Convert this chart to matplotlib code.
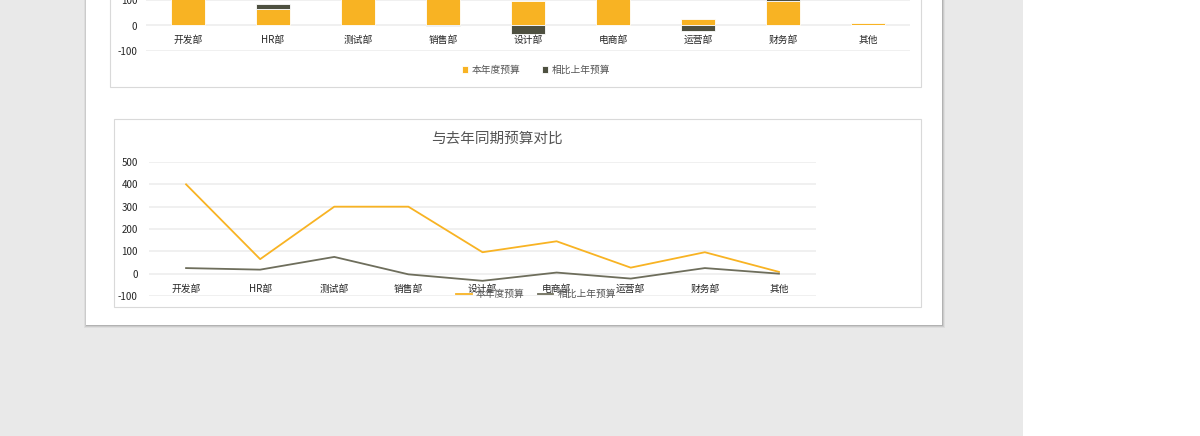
import matplotlib
matplotlib.use('Agg')
import matplotlib.pyplot as plt
from matplotlib.patches import Rectangle
import numpy as np

plt.rcParams['font.family'] = ['Noto Sans CJK SC', 'DejaVu Sans']
plt.rcParams['axes.unicode_minus'] = False

# data
depts = ['开发部', 'HR部', '测试部', '销售部', '设计部', '电商部', '运营部', '财务部', '其他']
budget_this_year = [400, 65, 300, 300, 96, 145, 27, 96, 8]
diff_last_year = [25, 18, 75, -3, -32, 5, -22, 25, 0]
series_names = ['本年度预算', '相比上年预算']
line_title = '与去年同期预算对比'

orange = '#F8B323'
darkgray = '#4E5040'
linegray = '#6E6E5C'
gridc = '#EDEDED'
textc = '#262626'

W, H = 1200, 436
fig = plt.figure(figsize=(W / 100, H / 100), dpi=100)
fig.patch.set_facecolor('#E9E9E9')

def box(x0, y0, x1, y1):
    # pixel box (top-left origin) -> figure fraction
    return [x0 / W, 1 - y1 / H, (x1 - x0) / W, (y1 - y0) / H]

def rect(x0, y0, x1, y1, **kw):
    b = box(x0, y0, x1, y1)
    fig.patches.append(Rectangle((b[0], b[1]), b[2], b[3], transform=fig.transFigure, **kw))

# sheet background
rect(1023, 0, 1200, 436, facecolor='white', edgecolor='none', zorder=-5)
for i, a in enumerate([0.05, 0.08, 0.12]):
    d = 3 - i
    rect(86 - d + 1, -5, 942 + d, 325 + d, facecolor='black', edgecolor='none', alpha=a, zorder=-5)
rect(86, -5, 942, 325, facecolor='white', edgecolor='none', zorder=-4)
rect(110, -5, 921, 87, facecolor='white', edgecolor='#D9D9D9', linewidth=0.8, zorder=-3)
rect(114, 119, 921, 307, facecolor='white', edgecolor='#D9D9D9', linewidth=0.8, zorder=-3)

x = np.arange(len(depts))

# top: stacked column chart (cut off at the top)
ax1 = fig.add_axes(box(145.5, 25.5 - 500 * 0.255, 910.5, 51))
ax1.set_facecolor('none')
ax1.set_ylim(-100, 500)
ax1.set_xlim(-0.5, len(depts) - 0.5)
pos_base = np.array(budget_this_year, dtype=float)
d = np.array(diff_last_year, dtype=float)
b1 = ax1.bar(x, budget_this_year, width=0.4, color=orange, edgecolor='white', linewidth=0.6, zorder=3)
b2 = ax1.bar(x, d, width=0.4, bottom=np.where(d > 0, pos_base, 0), color=darkgray,
             edgecolor='white', linewidth=0.6, zorder=3)
ax1.set_yticks([-100, 0, 100, 200, 300, 400, 500])
ax1.grid(axis='y', color=gridc, linewidth=1.2, zorder=0)
ax1.set_xticks([])
for i, name in enumerate(depts):
    ax1.text(i, -58, name, ha='center', va='center', fontsize=7, color=textc)
for s in ax1.spines.values():
    s.set_visible(False)
ax1.tick_params(axis='y', length=0, labelsize=7, labelcolor=textc, pad=6)
fig.legend([b1, b2], series_names, loc='center', bbox_to_anchor=(536 / W, 1 - 70 / H),
           ncol=2, frameon=False, fontsize=7, handlelength=0.6, handleheight=0.6,
           columnspacing=2.2, handletextpad=0.4, labelcolor='#555555')

# bottom: line chart
ax2 = fig.add_axes(box(149, 162, 816, 296))
ax2.set_facecolor('none')
ax2.set_ylim(-100, 500)
ax2.set_xlim(-0.5, len(depts) - 0.5)
l1, = ax2.plot(x, budget_this_year, color=orange, linewidth=1.3, zorder=3)
l2, = ax2.plot(x, diff_last_year, color=linegray, linewidth=1.3, zorder=3)
ax2.set_yticks([-100, 0, 100, 200, 300, 400, 500])
ax2.grid(axis='y', color=gridc, linewidth=1.2, zorder=0)
ax2.set_xticks([])
for i, name in enumerate(depts):
    ax2.text(i, -68, name, ha='center', va='center', fontsize=7, color=textc)
for s in ax2.spines.values():
    s.set_visible(False)
ax2.tick_params(axis='y', length=0, labelsize=7, labelcolor=textc, pad=8)
fig.text(497 / W, 1 - 139 / H, line_title, ha='center', va='center', fontsize=10.5, color='#555555')
fig.legend([l1, l2], series_names, loc='center', bbox_to_anchor=(536 / W, 1 - 294 / H),
           ncol=2, frameon=False, fontsize=7, handlelength=1.6,
           columnspacing=1.4, handletextpad=0.4, labelcolor='#555555')

fig.savefig('out.png', dpi=100, facecolor=fig.get_facecolor())
